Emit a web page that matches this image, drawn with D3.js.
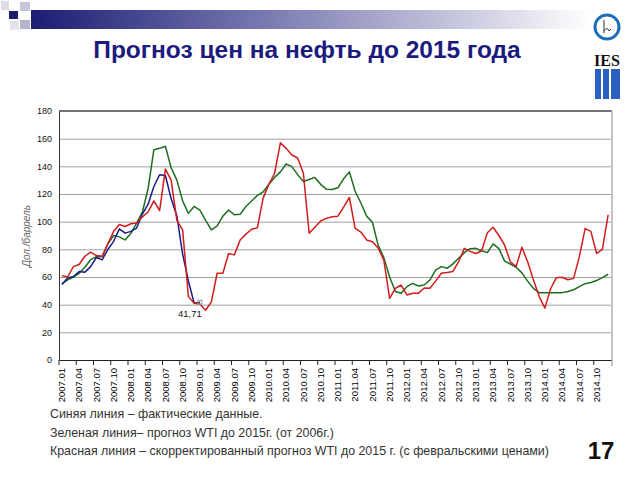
<!DOCTYPE html>
<html><head><meta charset="utf-8">
<script src="https://cdn.jsdelivr.net/npm/d3@7"></script>
<style>
body{margin:0;background:#fff}
svg{display:block;font-family:"Liberation Sans",Arial,sans-serif}
</style>
</head><body>
<svg id="c" width="640" height="480"></svg>
<script>
// ---------- DATA ----------
const years = [2007, 2008, 2009, 2010, 2011, 2012, 2013, 2014];
const monthNums = ["01","02","03","04","05","06","07","08","09","10","11","12"];
const months = years.flatMap(y => monthNums.map(m => y + "." + m));
const tickLabels = months.filter((d, i) => i % 3 === 0);
const yTicks = [0, 20, 40, 60, 80, 100, 120, 140, 160, 180];

// Blue: actual data (2007.01 - 2009.01)
const actual = [54.5,59.3,60.4,64.0,63.5,67.5,74.1,72.4,79.9,85.8,94.8,91.7,
                93.0,95.4,105.5,112.6,125.4,133.9,133.4,116.7,104.1,76.6,57.3,41.1,
                41.71];
// Green: WTI forecast to 2015 (from 2006)
const forecast2006 = [55,58,60,62.7,67,72.5,74.7,74.7,84,90,89,86.8,
                      91.6,99,107,124,152,153,154.5,139,130,115,106,111,
                      108.4,101,94,97,104,108.4,105,105.3,111,115,119,121.5,
                      127,132,136,141.7,139.8,134,129,130.5,132,127,123.5,123.2,
                      124.5,131,136,122,113.5,104,99.6,83,74,60,49.5,48.2,
                      53,55.4,53.5,54.2,57.8,65,67.5,66.3,69.5,73.5,77.6,80.5,
                      80.7,79,77.6,83.9,80.5,71.5,69.4,67,63,57,51.8,48.7,
                      48.7,48.7,48.7,48.7,49.5,50.8,53,55.2,56,57.5,59.5,62];
// Red: corrected WTI forecast (February prices)
const corrected = [61,60,67.5,69,75,78,75.5,75,84,93,98,96.5,
                   98.5,99,103.5,107,115,108,138,130,101,94,46,41,
                   40.5,36,42,62.7,62.7,77,76,86.8,91,94.5,95.5,117,
                   127,135,157,153,148.2,146,135,91.6,96,100.5,102.4,103.6,
                   104,110.5,117.5,95.2,92.5,86.8,85.5,81,72,44.5,51.8,54.2,
                   47,48.2,48.2,52,51.8,57,62.7,63.3,64,71,80.7,78.5,
                   77,79,92,96,90,83,71,67.5,81.5,71,58,46,
                   37.5,51.5,59.5,59.8,58,59,74.7,95,93,77,80,105];
const lastActualLabel = "41,71";
const notes = [
  "Синяя линия – фактические данные.",
  "Зеленая линия– прогноз WTI до 2015г. (от 2006г.)",
  "Красная линия – скорректированный прогноз WTI до 2015 г. (с февральскими ценами)"
];

// ---------- LAYOUT ----------
const svg = d3.select("#c");
const L = 59, R = 611, T = 111, B = 360;
const x = d3.scaleBand().domain(months).range([L, R]).padding(0);
const y = d3.scaleLinear().domain([0, 180]).range([B, T]);
const cx = d => x(d) + x.bandwidth() / 2;

// ---------- HEADER DECORATION ----------
const defs = svg.append("defs");
const grad = defs.append("linearGradient").attr("id", "bar");
grad.append("stop").attr("offset", "0%").attr("stop-color", "#1c1c74");
grad.append("stop").attr("offset", "35%").attr("stop-color", "#6a6aa8");
grad.append("stop").attr("offset", "75%").attr("stop-color", "#c4c4dc");
grad.append("stop").attr("offset", "100%").attr("stop-color", "#ffffff");
svg.append("rect").attr("x", 31).attr("y", 10).attr("width", 560).attr("height", 19).attr("fill", "url(#bar)");
const squares = [
  [1, 1, 8, 9, "#dcdcea"],
  [9, 11, 9, 8, "#1e1e6e"],
  [20, 2, 10, 9, "#c6c6da"],
  [20, 20, 10, 9, "#b4b4cc"],
  [10, 21, 9, 9, "#e2e2ee"]
];
svg.selectAll("rect.sq").data(squares).join("rect").attr("class", "sq")
  .attr("x", d => d[0]).attr("y", d => d[1]).attr("width", d => d[2]).attr("height", d => d[3])
  .attr("fill", d => d[4]);

// logo
svg.append("circle").attr("cx", 607).attr("cy", 27).attr("r", 12)
  .attr("fill", "none").attr("stroke", "#1f6fb8").attr("stroke-width", 3);
svg.append("path").attr("d", "M604,20 L604,33 M604,31 Q607,26 609,31 L611,29")
  .attr("fill", "none").attr("stroke", "#333").attr("stroke-width", 1);
svg.append("text").attr("x", 607).attr("y", 66).attr("text-anchor", "middle")
  .attr("font-family", "Liberation Serif, serif").attr("font-weight", "bold")
  .attr("font-size", 16).attr("fill", "#111").text("IES");
[[595, 6], [603, 6], [611, 9]].forEach(b => {
  svg.append("rect").attr("x", b[0]).attr("y", 69).attr("width", b[1]).attr("height", 30).attr("fill", "#2b5fc0");
});

// title
svg.append("text").attr("x", 307).attr("y", 58).attr("text-anchor", "middle")
  .attr("font-size", 24.5).attr("font-weight", "bold").attr("fill", "#1b1b7e")
  .text("Прогноз цен на нефть до 2015 года");

// ---------- GRID ----------
svg.append("g").attr("transform", `translate(${L},0)`)
  .call(d3.axisLeft(y).tickValues(yTicks.filter(v => v > 0 && v < 180)).tickSize(-(R - L)).tickFormat(""))
  .call(g => g.select(".domain").remove())
  .call(g => g.selectAll("line").attr("stroke", "#a0a0a0").attr("stroke-width", 1));
// top and right frame
svg.append("line").attr("x1", L).attr("x2", R + 1).attr("y1", y(180)).attr("y2", y(180))
  .attr("stroke", "#444").attr("stroke-width", 1.5);
svg.append("line").attr("x1", R + 1).attr("x2", R + 1).attr("y1", y(180)).attr("y2", B + 6)
  .attr("stroke", "#c4c4c4").attr("stroke-width", 2);

// ---------- Y AXIS ----------
const yAxis = svg.append("g").attr("transform", `translate(${L},0)`)
  .call(d3.axisLeft(y).tickValues(yTicks).tickSize(0).tickPadding(7));
yAxis.select(".domain").attr("stroke", "#333");
yAxis.selectAll("text").attr("font-size", 9).attr("fill", "#111").attr("font-family", "Liberation Sans, Arial, sans-serif");

svg.append("text").attr("transform", "translate(30,236) rotate(-90)").attr("text-anchor", "middle")
  .attr("font-size", 10).attr("font-style", "italic").attr("fill", "#666").text("Дол./баррель");

// ---------- X AXIS ----------
const xAxis = svg.append("g").attr("transform", `translate(0,${B})`)
  .call(d3.axisBottom(x).tickValues(tickLabels).tickSize(0));
xAxis.select(".domain").attr("stroke", "#222");
xAxis.selectAll("text")
  .attr("transform", "rotate(-90)").attr("text-anchor", "end")
  .attr("x", -8).attr("y", 0).attr("dy", "0.35em")
  .attr("font-size", 9.5).attr("fill", "#000").attr("font-family", "Liberation Sans, Arial, sans-serif");
svg.append("g").selectAll("line").data(tickLabels).join("line")
  .attr("x1", d => x(d)).attr("x2", d => x(d)).attr("y1", B).attr("y2", B + 5)
  .attr("stroke", "#222");

// ---------- LINES ----------
const line = d3.line().x(d => cx(d[0])).y(d => y(d[1]));
const series = [
  {vals: forecast2006, color: "#1e6e1e"},
  {vals: actual, color: "#1a1a8a"},
  {vals: corrected, color: "#d21c1c"}
];
series.forEach(s => {
  svg.append("path").datum(s.vals.map((v, i) => [months[i], v]))
    .attr("d", line).attr("fill", "none").attr("stroke", s.color)
    .attr("stroke-width", 1.5).attr("stroke-linejoin", "round");
});
// last actual point marker and label
const lastIdx = actual.length - 1;
svg.append("rect").attr("x", cx(months[lastIdx]) - 2).attr("y", y(actual[lastIdx]) - 2)
  .attr("width", 4).attr("height", 4).attr("fill", "none").attr("stroke", "#999").attr("stroke-width", 1);
svg.append("text").attr("x", cx(months[lastIdx]) - 10).attr("y", y(actual[lastIdx]) + 15)
  .attr("text-anchor", "middle").attr("font-size", 9.5).attr("fill", "#111").text(lastActualLabel);

// ---------- NOTES ----------
svg.selectAll("text.note").data(notes).join("text").attr("class", "note")
  .attr("x", 50).attr("y", (d, i) => 418 + i * 18.5)
  .attr("font-size", 12.4).attr("fill", "#333").text(d => d);
svg.append("text").attr("x", 601).attr("y", 459).attr("text-anchor", "middle")
  .attr("font-size", 24).attr("font-weight", "bold").attr("fill", "#111").text("17");
</script>
</body></html>
